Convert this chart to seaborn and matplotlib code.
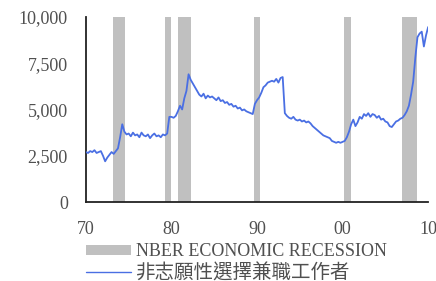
import numpy as np
import pandas as pd
import matplotlib
matplotlib.use("Agg")
import matplotlib.pyplot as plt
import seaborn as sns
from matplotlib.patches import Patch
from matplotlib.lines import Line2D

# ---- data ----
years = [1970 + q / 4 for q in range(161)]
values = [
    2700, 2650, 2750, 2700,   # 1970
    2800, 2650, 2700, 2750,   # 1971
    2500, 2200, 2400, 2550,   # 1972
    2700, 2600, 2750, 2900,   # 1973
    3500, 4200, 3800, 3650,   # 1974
    3700, 3550, 3750, 3600,   # 1975
    3650, 3500, 3750, 3600,   # 1976
    3550, 3650, 3450, 3600,   # 1977
    3700, 3550, 3600, 3500,   # 1978
    3650, 3600, 3700, 4600,   # 1979
    4600, 4550, 4650, 4900,   # 1980
    5200, 5000, 5600, 6000,   # 1981
    6900, 6600, 6400, 6200,   # 1982
    6000, 5800, 5700, 5850,   # 1983
    5600, 5750, 5650, 5700,   # 1984
    5600, 5500, 5650, 5450,   # 1985
    5500, 5350, 5400, 5250,   # 1986
    5300, 5150, 5200, 5050,   # 1987
    5100, 4950, 5000, 4900,   # 1988
    4850, 4800, 4750, 5300,   # 1989
    5500, 5650, 5900, 6200,   # 1990
    6300, 6450, 6500, 6550,   # 1991
    6500, 6650, 6450, 6700,   # 1992
    6750, 4800, 4650, 4550,   # 1993
    4500, 4600, 4450, 4400,   # 1994
    4450, 4350, 4400, 4300,   # 1995
    4350, 4250, 4100, 4000,   # 1996
    3900, 3800, 3700, 3600,   # 1997
    3550, 3500, 3450, 3300,   # 1998
    3250, 3200, 3250, 3200,   # 1999
    3250, 3300, 3500, 3800,   # 2000
    4200, 4450, 4100, 4300,   # 2001
    4600, 4500, 4750, 4650,   # 2002
    4800, 4600, 4750, 4700,   # 2003
    4550, 4650, 4450, 4500,   # 2004
    4350, 4300, 4100, 4050,   # 2005
    4200, 4350, 4400, 4500,   # 2006
    4550, 4700, 4900, 5200,   # 2007
    5800, 6500, 7800, 8900,   # 2008
    9100, 9200, 8400, 9000,   # 2009
    9450,                     # 2010
]
rec_start = [1973.2, 1979.3, 1980.8, 1989.7, 2000.2, 2007.0]
rec_end = [1974.6, 1979.9, 1982.3, 1990.4, 2001.0, 2008.7]
xticks = [1970, 1980, 1990, 2000, 2010]
xtick_labels = ["70", "80", "90", "00", "10"]
yticks = [0, 2500, 5000, 7500, 10000]
ytick_labels = ["0", "2,500", "5,000", "7,500", "10,000"]
label_rec = "NBER ECONOMIC RECESSION"
label_line = "非志願性選擇兼職工作者"

df = pd.DataFrame({"year": years, "value": values})

sns.set_theme(style="white")
plt.rcParams["font.family"] = ["Liberation Serif", "Noto Sans CJK TC"]

line_color = "#4A6FE3"
band_color = "#C0C0C0"
text_color = "#505050"

fig = plt.figure(figsize=(4.36, 2.81), dpi=100)
ax = fig.add_axes([0.197, 0.281, 0.785, 0.659])

for s, e in zip(rec_start, rec_end):
    ax.axvspan(s, e, color=band_color, lw=0, zorder=1)

sns.lineplot(data=df, x="year", y="value", ax=ax, color=line_color, lw=1.3, zorder=3)

ax.set_xlim(1970, 2010)
ax.set_ylim(0, 10000)
ax.set_xticks(xticks)
ax.set_xticklabels(xtick_labels)
ax.set_yticks(yticks)
ax.set_yticklabels(ytick_labels)
ax.set_xlabel("")
ax.set_ylabel("")
for sp in ["top", "right"]:
    ax.spines[sp].set_visible(False)
for sp in ["left", "bottom"]:
    ax.spines[sp].set_color("#222222")
    ax.spines[sp].set_linewidth(1.3)
ax.tick_params(axis="both", labelsize=13, colors=text_color, length=3, width=1,
               direction="in")
ax.tick_params(axis="y", pad=13)
ax.tick_params(axis="x", pad=14)
for lab in ax.get_xticklabels() + ax.get_yticklabels():
    lab.set_color(text_color)

handles = [Patch(facecolor=band_color, edgecolor="none"),
           Line2D([], [], color=line_color, lw=1.0)]
leg = fig.legend(handles, [label_rec, label_line], loc="upper left",
                 bbox_to_anchor=(0.197, 0.134), frameon=False, fontsize=13,
                 handlelength=2.5, handleheight=0.5, labelspacing=0.15,
                 handletextpad=0.3, borderaxespad=0, borderpad=0)
for t in leg.get_texts():
    t.set_color(text_color)
leg.get_texts()[1].set_fontsize(14)

fig.savefig("out.png", dpi=100)
